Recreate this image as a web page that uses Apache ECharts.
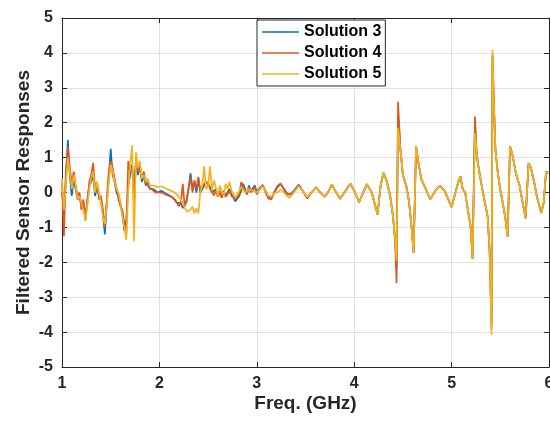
<!DOCTYPE html>
<html><head><meta charset="utf-8">
<script src="https://cdn.jsdelivr.net/npm/echarts@6/dist/echarts.min.js"></script>
<style>html,body{margin:0;padding:0;background:#fff}#c{width:550px;height:424px}</style>
</head><body><div id="c"></div>
<script>
const freqGHz = [
1.00,1.02,1.04,1.06,1.08,1.10,1.12,1.14,1.16,1.18,1.20,1.22,1.24,1.26,1.28,1.30,1.32,1.34,1.36,1.38,
1.40,1.42,1.44,1.46,1.48,1.50,1.52,1.54,1.56,1.58,1.60,1.62,1.64,1.66,1.68,1.70,1.72,1.74,1.76,1.78,
1.80,1.82,1.84,1.86,1.88,1.90,1.92,1.94,1.96,1.98,2.00,
2.02,2.04,2.06,2.08,2.10,2.12,2.14,2.16,2.18,2.20,2.22,2.24,2.26,2.28,2.30,2.32,2.34,2.36,2.38,2.40,
2.42,2.44,2.46,2.48,2.50,2.52,2.54,2.56,2.58,2.60,2.62,2.64,2.66,2.68,2.70,2.72,2.74,2.76,2.78,2.80,
2.82,2.84,2.86,2.88,2.90,2.92,2.94,2.96,2.98,3.00,
3.03,3.06,3.09,3.12,3.15,3.18,3.21,3.245,3.28,3.31,3.34,3.38,3.43,3.47,3.52,3.56,3.61,3.65,3.70,3.74,
3.77,3.81,3.855,3.90,3.96,4.00,4.05,4.09,4.13,4.18,4.24,4.27,4.30,4.33,4.37,4.40,4.42,4.435,4.45,4.475,
4.50,4.535,4.56,4.585,4.61,4.635,4.66,4.69,4.73,4.78,4.83,4.88,4.93,5.00,5.07,5.09,5.115,5.14,5.17,5.195,
5.215,5.24,5.255,5.27,5.295,5.32,5.35,5.37,5.39,5.41,5.42,5.435,5.45,5.475,5.50,5.525,5.55,5.575,5.60,5.625,
5.66,5.70,5.73,5.76,5.79,5.81,5.85,5.875,5.92,5.945,5.97,6.00
];
const solution3 = [
0.0,-0.6,0.4,1.5,0.5,-0.1,0.4,0.1,-0.2,-0.1,-0.4,-0.3,-0.8,-0.2,0.2,0.3,0.5,-0.1,0.2,-0.1,
-0.2,-0.6,-1.2,-0.3,0.4,1.25,0.5,0.3,0.0,-0.1,-0.3,-0.6,-1.1,-0.8,0.2,0.5,0.8,0.0,1.0,0.5,
0.8,0.3,0.5,0.2,0.3,0.1,0.15,0.1,0.05,0.0,0.05,
0.05,0.0,-0.02,-0.05,-0.08,-0.1,-0.15,-0.2,-0.3,-0.35,-0.3,-0.45,-0.5,-0.25,0.15,0.55,0.1,0.3,0.0,0.4,
0.0,0.1,0.2,0.3,0.35,0.15,0.0,-0.05,0.1,-0.1,0.0,-0.15,0.05,-0.1,0.0,0.1,-0.05,-0.15,-0.25,-0.2,
-0.1,0.05,0.25,0.1,-0.05,0.2,0.05,0.0,0.2,0.0,
0.13,0.2,0.05,-0.12,-0.15,0.0,0.15,0.24,0.1,-0.02,-0.06,0.05,0.22,0.05,-0.15,0.0,0.15,0.0,-0.12,0.05,
0.23,0.02,-0.18,0.0,0.26,0.05,-0.28,-0.02,0.24,0.0,-0.63,0.18,0.56,0.37,-0.1,-0.73,-1.35,-2.2,2.2,1.23,
0.5,0.18,-0.2,-0.87,-1.73,1.33,0.85,0.37,0.13,-0.2,0.04,0.2,0.04,-0.42,0.32,0.46,0.08,0.0,-0.55,-0.97,
-1.9,2.0,1.22,0.84,0.41,0.03,-0.4,-0.69,-1.64,-3.74,3.9,2.46,1.22,0.55,0.08,-0.3,-0.69,-1.26,1.32,1.08,
0.55,0.17,-0.3,-0.74,0.84,0.75,0.27,-0.11,-0.59,-0.3,0.6,0.55
];
const solution4 = [
0.3,-1.25,0.6,1.3,0.7,0.3,0.6,0.2,-0.1,0.0,-0.5,-0.2,-0.7,-0.3,0.3,0.5,0.85,0.1,0.3,-0.2,
-0.1,-0.5,-1.0,-0.2,0.6,0.9,0.7,0.4,0.1,-0.2,-0.4,-0.5,-0.9,-1.2,0.9,0.6,0.7,-0.3,0.9,0.6,
0.7,0.4,0.6,0.3,0.2,0.2,0.1,0.05,0.0,-0.05,0.0,
0.0,-0.02,-0.05,-0.08,-0.1,-0.12,-0.15,-0.2,-0.25,-0.4,-0.3,0.25,-0.4,-0.2,0.1,0.45,0.0,0.35,0.1,0.45,
0.05,0.15,0.25,0.25,0.3,0.1,0.05,-0.08,0.05,-0.12,0.05,-0.15,0.0,-0.12,-0.05,0.05,-0.1,-0.15,-0.2,-0.25,
-0.05,0.3,0.3,0.05,-0.05,0.15,0.0,-0.05,0.15,-0.05,
0.1,0.22,0.0,-0.18,-0.2,0.02,0.18,0.26,0.08,-0.05,-0.06,0.02,0.2,0.05,-0.17,0.0,0.15,0.0,-0.12,0.05,
0.23,0.02,-0.18,0.0,0.26,0.05,-0.28,-0.02,0.24,0.0,-0.63,0.18,0.56,0.37,-0.1,-0.73,-1.35,-2.6,2.6,1.23,
0.5,0.18,-0.2,-0.87,-1.73,1.33,0.85,0.37,0.13,-0.2,0.04,0.2,0.04,-0.42,0.32,0.46,0.08,0.0,-0.55,-0.97,
-1.9,2.18,1.22,0.84,0.41,0.03,-0.4,-0.69,-1.64,-3.9,3.95,2.46,1.22,0.55,0.08,-0.3,-0.69,-1.26,1.32,1.08,
0.55,0.17,-0.3,-0.74,0.84,0.75,0.27,-0.11,-0.59,-0.3,0.6,0.55
];
const solution5 = [
0.4,-0.5,0.2,1.0,0.6,0.1,0.5,0.2,-0.2,-0.1,-0.3,-0.5,-0.8,-0.4,0.1,0.4,0.6,0.0,0.3,0.0,
-0.3,-0.7,-0.9,-0.4,0.3,0.8,0.6,0.3,0.1,0.0,-0.3,-0.7,-1.0,-1.35,0.0,0.8,1.35,-1.4,1.15,0.7,
0.9,0.4,0.5,0.3,0.4,0.2,0.25,0.2,0.2,0.15,0.2,
0.18,0.15,0.12,0.1,0.08,0.05,0.02,-0.02,-0.05,-0.1,-0.2,-0.3,-0.45,-0.55,-0.55,-0.5,-0.4,-0.6,-0.45,-0.6,
0.0,0.2,0.75,0.1,0.2,0.75,0.05,0.35,0.15,-0.1,0.2,0.05,-0.1,0.25,0.1,0.3,0.05,-0.05,-0.15,-0.1,
0.05,0.15,0.1,0.0,0.05,0.1,0.15,0.05,0.1,0.0,
0.08,0.18,0.05,-0.1,-0.12,-0.02,0.0,0.08,0.0,-0.1,-0.15,0.0,0.18,0.05,-0.13,0.0,0.15,0.0,-0.12,0.05,
0.23,0.02,-0.18,0.0,0.26,0.05,-0.28,-0.02,0.24,0.0,-0.63,0.18,0.56,0.37,-0.1,-0.73,-1.35,-1.95,1.85,1.23,
0.5,0.18,-0.2,-0.87,-1.73,1.33,0.85,0.37,0.13,-0.2,0.04,0.2,0.04,-0.42,0.32,0.46,0.08,0.0,-0.55,-0.97,
-1.9,1.7,1.22,0.84,0.41,0.03,-0.4,-0.69,-1.64,-4.08,4.09,2.46,1.22,0.55,0.08,-0.3,-0.69,-1.26,1.32,1.08,
0.55,0.17,-0.3,-0.74,0.84,0.75,0.27,-0.11,-0.59,-0.3,0.6,0.55
];
const seriesNames = ['Solution 3', 'Solution 4', 'Solution 5'];
const seriesValues = [solution3, solution4, solution5];
const seriesColors = ['#0072BD', '#E2561C', '#F5B21A'];
const xRange = [1, 6];
const yRange = [-5, 5];

const FONT = '"Liberation Sans", Arial, Helvetica, sans-serif';
const INK = '#262626';

const chart = echarts.init(document.getElementById('c'), null, {renderer: 'canvas'});

function axisBase(min, max) {
  return {
    type: 'value', min: min, max: max, interval: 1,
    axisLine: {show: true, onZero: false, lineStyle: {color: INK, width: 1}},
    axisTick: {show: true, inside: true, length: 5, lineStyle: {color: INK}},
  };
}

const option = {
  animation: false,
  backgroundColor: '#fff',
  color: seriesColors,
  grid: {left: 62, right: 1, top: 18, bottom: 57, containLabel: false, outerBoundsMode: 'none'},
  legend: {
    data: seriesNames,
    orient: 'vertical',
    left: 257, top: 20,
    icon: 'rect',
    itemWidth: 37, itemHeight: 1.5, itemGap: 5,
    padding: [4, 4, 4, 5],
    borderColor: INK, borderWidth: 1,
    backgroundColor: '#fff',
    textStyle: {fontFamily: FONT, fontSize: 16, fontWeight: 'bold', color: '#000', lineHeight: 16}
  },
  xAxis: [
    Object.assign(axisBase(xRange[0], xRange[1]), {
      position: 'bottom',
      axisLabel: {color: INK, fontFamily: FONT, fontSize: 16, fontWeight: 'bold', margin: 9},
      splitLine: {show: true, lineStyle: {color: '#e2e2e2', width: 1}},
      name: 'Freq. (GHz)', nameLocation: 'middle', nameGap: 27, nameMoveOverlap: false,
      nameTextStyle: {color: INK, fontFamily: FONT, fontSize: 19, fontWeight: 'bold'}
    }),
    Object.assign(axisBase(xRange[0], xRange[1]), {
      position: 'top', axisLabel: {show: false}, splitLine: {show: false}
    })
  ],
  yAxis: [
    Object.assign(axisBase(yRange[0], yRange[1]), {
      position: 'left',
      axisLabel: {color: INK, fontFamily: FONT, fontSize: 16, fontWeight: 'bold', margin: 9},
      splitLine: {show: true, lineStyle: {color: '#e2e2e2', width: 1}},
      name: 'Filtered Sensor Responses', nameLocation: 'middle', nameGap: 29, nameMoveOverlap: false,
      nameTextStyle: {color: INK, fontFamily: FONT, fontSize: 19, fontWeight: 'bold'}
    }),
    Object.assign(axisBase(yRange[0], yRange[1]), {
      position: 'right', axisLabel: {show: false}, splitLine: {show: false}
    })
  ],
  series: seriesNames.map(function (name, k) {
    return {
      name: name,
      type: 'line',
      xAxisIndex: 0, yAxisIndex: 0,
      symbol: 'none', showSymbol: false,
      lineStyle: {width: 1.7, color: seriesColors[k]},
      itemStyle: {color: seriesColors[k]},
      data: freqGHz.map(function (f, i) { return [f, seriesValues[k][i]]; })
    };
  })
};
chart.setOption(option);
</script>
</body></html>
